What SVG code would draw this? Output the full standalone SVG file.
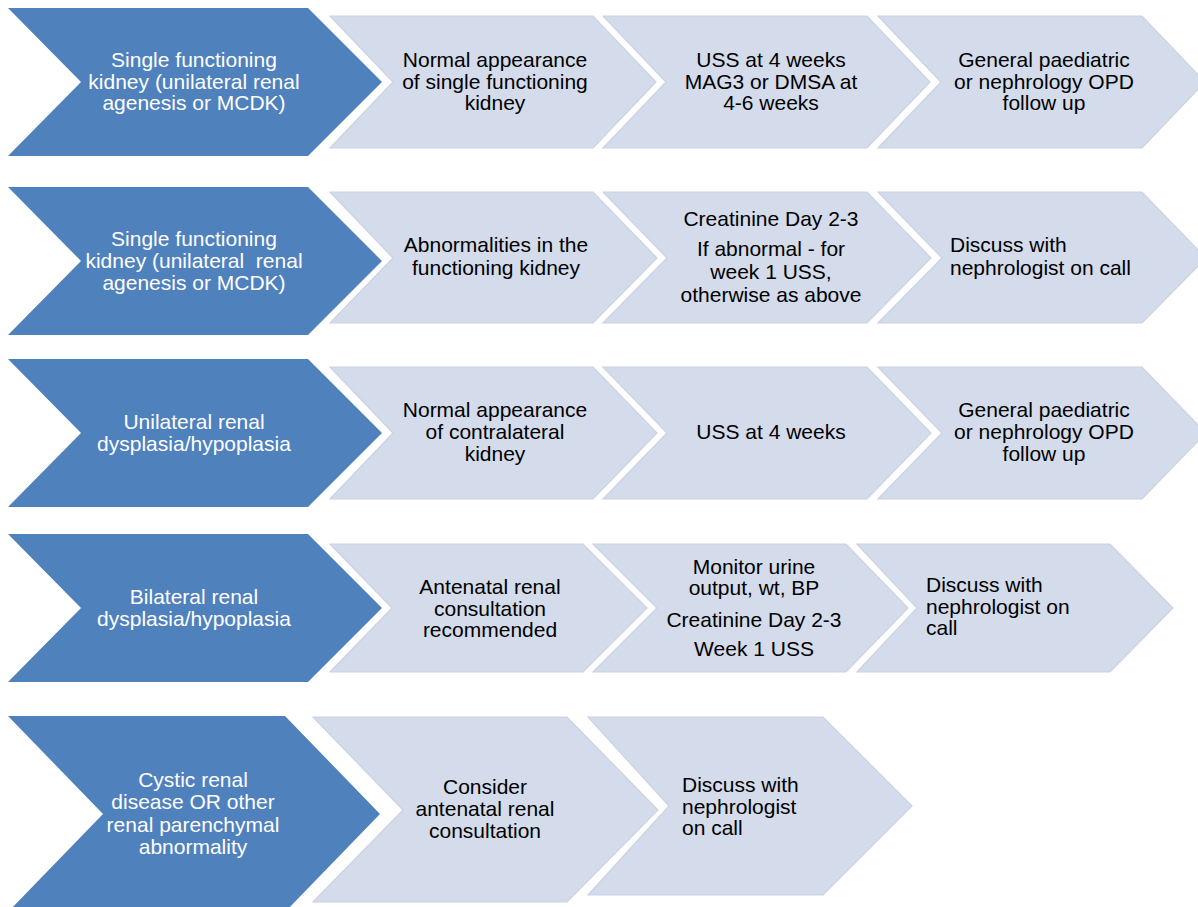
<svg xmlns="http://www.w3.org/2000/svg" width="1198" height="907" viewBox="0 0 1198 907">
<style>
.dark{fill:#4F81BD;}
.light{fill:#D4DBEA;stroke:#CAD2E4;stroke-width:1.2;}
text{font-family:"Liberation Sans",Arial,sans-serif;font-size:21px;}
.w{fill:#FFFFFF;text-anchor:middle;}
.b{fill:#000000;text-anchor:middle;}
.bl{fill:#000000;text-anchor:start;}
</style>
<rect width="1198" height="907" fill="#FFFFFF"/>
<g id="connectors"></g>

<!-- Row 1 -->
<g id="r1-start">
<polygon class="dark" points="8,8 308,8 382,82 308,156 8,156 81,82"/>
<text class="w" x="194" y="67">Single functioning</text>
<text class="w" x="194" y="88.5">kidney (unilateral renal</text>
<text class="w" x="194" y="110">agenesis or MCDK)</text>
</g>
<g id="r1-s1">
<polygon class="light" points="330,16 593,16 656,82 593,148 330,148 393,82"/>
<text class="b" x="495" y="67">Normal appearance</text>
<text class="b" x="495" y="88.5">of single functioning</text>
<text class="b" x="495" y="110">kidney</text>
</g>
<g id="r1-s2">
<polygon class="light" points="603,16 867,16 930,82 867,148 603,148 666,82"/>
<text class="b" x="771" y="67">USS at 4 weeks</text>
<text class="b" x="771" y="88.5">MAG3 or DMSA at</text>
<text class="b" x="771" y="110">4-6 weeks</text>
</g>
<g id="r1-s3">
<polygon class="light" points="878,16 1142,16 1205,82 1142,148 878,148 941,82"/>
<text class="b" x="1044" y="67">General paediatric</text>
<text class="b" x="1044" y="88.5">or nephrology OPD</text>
<text class="b" x="1044" y="110">follow up</text>
</g>

<!-- Row 2 -->
<g id="r2-start">
<polygon class="dark" points="8,187 308,187 382,261 308,335 8,335 81,261"/>
<text class="w" x="194" y="246" xml:space="preserve">Single functioning</text>
<text class="w" x="194" y="268" xml:space="preserve">kidney (unilateral  renal</text>
<text class="w" x="194" y="290" xml:space="preserve">agenesis or MCDK)</text>
</g>
<g id="r2-s1">
<polygon class="light" points="330,192 593,192 657,258 593,323 330,323 393,258"/>
<text class="b" x="496" y="252">Abnormalities in the</text>
<text class="b" x="496" y="275">functioning kidney</text>
</g>
<g id="r2-s2">
<polygon class="light" points="603,192 867,192 931,258 867,323 603,323 667,258"/>
<text class="b" x="771" y="226">Creatinine Day 2-3</text>
<text class="b" x="771" y="256">If abnormal - for</text>
<text class="b" x="771" y="279">week 1 USS,</text>
<text class="b" x="771" y="302">otherwise as above</text>
</g>
<g id="r2-s3">
<polygon class="light" points="878,192 1142,192 1206,258 1142,323 878,323 942,258"/>
<text class="bl" x="950" y="252">Discuss with</text>
<text class="bl" x="950" y="275">nephrologist on call</text>
</g>

<!-- Row 3 -->
<g id="r3-start">
<polygon class="dark" points="8,359 308,359 382,433 308,507 8,507 81,433"/>
<text class="w" x="194" y="429">Unilateral renal</text>
<text class="w" x="194" y="451">dysplasia/hypoplasia</text>
</g>
<g id="r3-s1">
<polygon class="light" points="330,367 593,367 657,433 593,499 330,499 393,433"/>
<text class="b" x="495" y="417">Normal appearance</text>
<text class="b" x="495" y="439">of contralateral</text>
<text class="b" x="495" y="461">kidney</text>
</g>
<g id="r3-s2">
<polygon class="light" points="603,367 867,367 931,433 867,499 603,499 667,433"/>
<text class="b" x="771" y="439">USS at 4 weeks</text>
</g>
<g id="r3-s3">
<polygon class="light" points="878,367 1142,367 1206,433 1142,499 878,499 942,433"/>
<text class="b" x="1044" y="417">General paediatric</text>
<text class="b" x="1044" y="439">or nephrology OPD</text>
<text class="b" x="1044" y="461">follow up</text>
</g>

<!-- Row 4 -->
<g id="r4-start">
<polygon class="dark" points="8,534 308,534 382,608 308,682 8,682 81,608"/>
<text class="w" x="194" y="604">Bilateral renal</text>
<text class="w" x="194" y="626">dysplasia/hypoplasia</text>
</g>
<g id="r4-s1">
<polygon class="light" points="330,544 583,544 647,608 583,672 330,672 392,608"/>
<text class="b" x="490" y="594">Antenatal renal</text>
<text class="b" x="490" y="616">consultation</text>
<text class="b" x="490" y="637">recommended</text>
</g>
<g id="r4-s2">
<polygon class="light" points="593,544 846,544 908,608 846,672 593,672 657,608"/>
<text class="b" x="754" y="574">Monitor urine</text>
<text class="b" x="754" y="595">output, wt, BP</text>
<text class="b" x="754" y="627">Creatinine Day 2-3</text>
<text class="b" x="754" y="656">Week 1 USS</text>
</g>
<g id="r4-s3">
<polygon class="light" points="857,544 1110,544 1173,608 1110,672 857,672 917,608"/>
<text class="bl" x="926" y="592">Discuss with</text>
<text class="bl" x="926" y="614">nephrologist on</text>
<text class="bl" x="926" y="635">call</text>
</g>

<!-- Row 5 -->
<g id="r5-start">
<polygon class="dark" points="8,716 285,716 380,814 285,912 8,912 103,814"/>
<text class="w" x="193" y="787">Cystic renal</text>
<text class="w" x="193" y="809">disease OR other</text>
<text class="w" x="193" y="832">renal parenchymal</text>
<text class="w" x="193" y="854">abnormality</text>
</g>
<g id="r5-s1">
<polygon class="light" points="313,717 567,717 658,810 567,902 313,902 403,810"/>
<text class="b" x="485" y="794">Consider</text>
<text class="b" x="485" y="816">antenatal renal</text>
<text class="b" x="485" y="838">consultation</text>
</g>
<g id="r5-s2">
<polygon class="light" points="588,717 823,717 912,806 823,895 588,895 669,806"/>
<text class="bl" x="682" y="792">Discuss with</text>
<text class="bl" x="682" y="814">nephrologist</text>
<text class="bl" x="682" y="835">on call</text>
</g>
</svg>
